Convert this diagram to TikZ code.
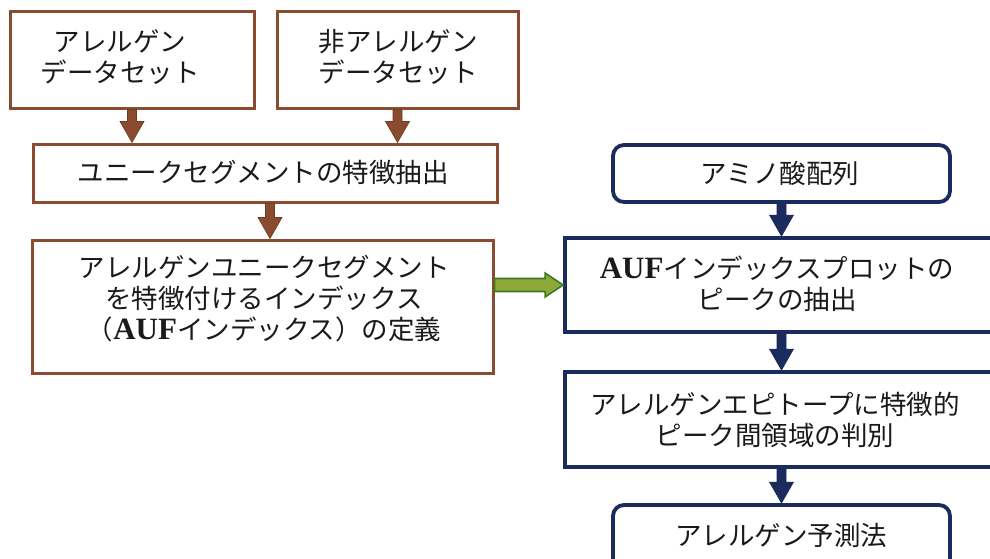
\documentclass[tikz,border=0pt]{standalone}
\usepackage{fontspec}
\setmainfont{Noto Sans CJK JP}
\newfontfamily\latinbf{Liberation Serif}
\usetikzlibrary{calc}
\definecolor{brownc}{HTML}{8A4B2E}
\definecolor{navyc}{HTML}{1C2B5E}
\definecolor{greenfill}{HTML}{8FA83A}
\definecolor{greenline}{HTML}{3C7A23}
\definecolor{txtc}{HTML}{1A1A1A}
\newcommand{\AUF}{{\latinbf\bfseries\fontsize{31}{31}\selectfont AUF}}
% vertical block arrow: style, start, end
\newcommand{\vblockarrow}[3]{%
  \path[#1] let \p1=(#2), \p2=(#3) in
    (\x1-4.5pt,\y1) -- (\x1-4.5pt,\y2+21pt) -- (\x1-12pt,\y2+21pt) -- (\x1,\y2)
    -- (\x1+12pt,\y2+21pt) -- (\x1+4.5pt,\y2+21pt) -- (\x1+4.5pt,\y1) -- cycle;}
% horizontal block arrow: style, start, end
\newcommand{\hblockarrow}[3]{%
  \path[#1] let \p1=(#2), \p2=(#3) in
    (\x1,\y2+6.5pt) -- (\x2-18pt,\y2+6.5pt) -- (\x2-18pt,\y2+12pt) -- (\x2,\y2)
    -- (\x2-18pt,\y2-12pt) -- (\x2-18pt,\y2-6.5pt) -- (\x1,\y2-6.5pt) -- cycle;}
\tikzset{
  x=1pt, y=-1pt,
  txt/.style={text=txtc, align=center, font=\fontsize{26.5}{31}\selectfont, inner sep=0pt},
  brownbox/.style={draw=brownc, line width=3pt, fill=white, inner sep=0pt},
  navybox/.style={draw=navyc, line width=3.8pt, fill=white, inner sep=0pt},
  navyround/.style={navybox, rounded corners=11pt},
  brownarrow/.style={fill=brownc, draw=brownc!80!black, line width=0.6pt},
  navyarrow/.style={fill=navyc, draw=navyc, line width=0.6pt},
  greenarrow/.style={fill=greenfill, draw=greenline, line width=1.6pt, line join=miter},
}
\begin{document}
\begin{tikzpicture}
\useasboundingbox (0,0) rectangle (990,558);
\fill[white] (0,0) rectangle (990,558);
\clip (0,0) rectangle (990,558);

% left column
\node[brownbox, minimum width=244pt, minimum height=97pt] (b1) at (132,59.5) {};
\node[txt] (t1) at (120,57) {アレルゲン\\データセット};
\node[brownbox, minimum width=241pt, minimum height=97pt] (b2) at (397.5,59.5) {};
\node[txt] (t2) at (398,57) {非アレルゲン\\データセット};
\node[brownbox, minimum width=464pt, minimum height=58pt] (b3) at (265,173) {};
\node[txt] (t3) at (263,172) {ユニークセグメントの特徴抽出};
\node[brownbox, minimum width=461pt, minimum height=133pt] (b4) at (262.5,306.5) {};
\node[txt] (t4) at (264,299) {アレルゲンユニークセグメント\\を特徴付けるインデックス\\（\AUF インデックス）の定義};

% right column
\node[navyround, minimum width=337pt, minimum height=57pt] (r1) at (781.5,173.5) {};
\node[txt] (s1) at (780,173) {アミノ酸配列};
\node[navybox, minimum width=435pt, minimum height=94pt] (r2) at (782.5,285) {};
\node[txt] (s2) at (777,284) {\AUF インデックスプロットの\\ピークの抽出};
\node[navybox, minimum width=435pt, minimum height=95pt] (r3) at (782.5,419.5) {};
\node[txt] (s3) at (775,420) {アレルゲンエピトープに特徴的\\ピーク間領域の判別};
\node[navyround, minimum width=337pt, minimum height=95pt] (r4) at (781.5,552.5) {};
\node[txt] (s4) at (781,535) {アレルゲン予測法};

% connectors
\vblockarrow{brownarrow}{b1.south}{b1.south |- b3.north}
\vblockarrow{brownarrow}{b2.south}{b2.south |- b3.north}
\coordinate (c3) at ($(b3.south)+(5,0)$);
\vblockarrow{brownarrow}{c3}{c3 |- b4.north}
\vblockarrow{navyarrow}{r1.south}{r1.south |- r2.north}
\vblockarrow{navyarrow}{r1.south |- r2.south}{r1.south |- r3.north}
\vblockarrow{navyarrow}{r1.south |- r3.south}{r4.north}
\hblockarrow{greenarrow}{b4.east}{r2.west}
\end{tikzpicture}
\end{document}
